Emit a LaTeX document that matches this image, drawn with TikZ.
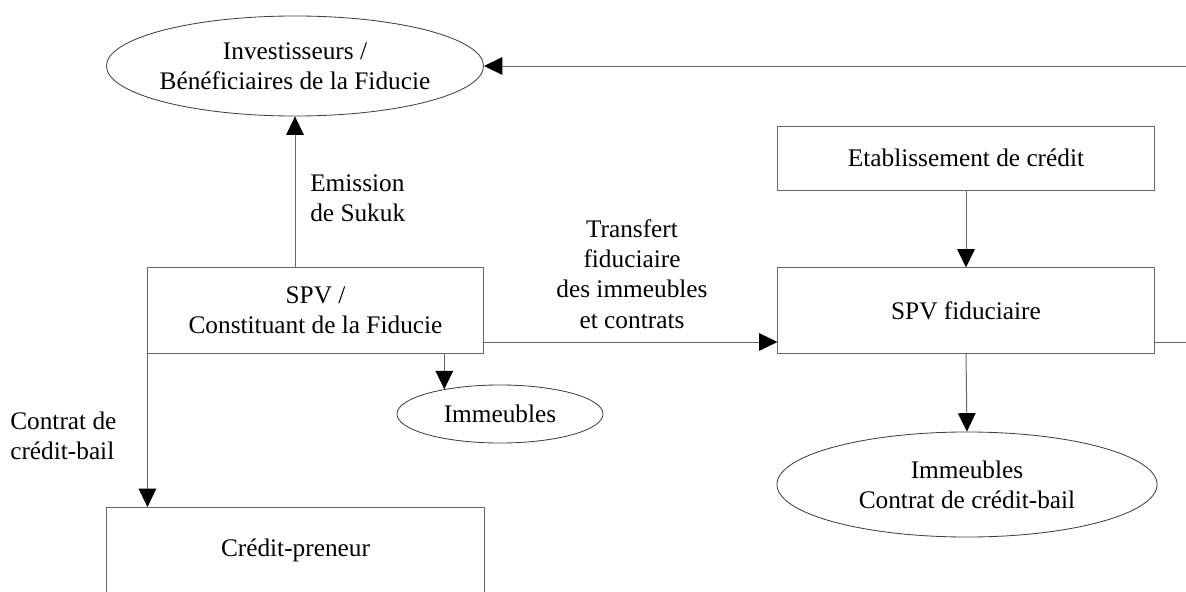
\documentclass[tikz,border=0pt]{standalone}
\usepackage{fontspec}
\setmainfont{Liberation Serif}
\usetikzlibrary{positioning,arrows.meta,shapes.geometric}

\begin{document}
\begin{tikzpicture}[x=0.025cm,y=-0.025cm,
  box/.style={rectangle, draw=black!60, line width=0.7pt, minimum width=9.4cm,
    minimum height=2.125cm, align=center, font=\fontsize{18}{21.5}\selectfont},
  oval/.style={ellipse, draw=black!75, line width=0.6pt, inner sep=0pt,
    align=center, font=\fontsize{18}{21.5}\selectfont},
  lbl/.style={inner sep=0pt, font=\fontsize{18}{21.5}\selectfont},
  link/.style={draw=black!60, line width=0.7pt},
  arr/.style={link, -{Triangle[length=0.46cm,width=0.44cm,color=black]}}]

\clip (0,0) rectangle (1186,592);

% Ellipses
\node[oval, minimum width=9.425cm, minimum height=2.5cm, inner xsep=-0.1cm] (invest) at (295,66)
  {Investisseurs /\\Bénéficiaires de la Fiducie};
\node[oval, minimum width=5.15cm, minimum height=1.45cm] (imm) at (500,414) {Immeubles};
\node[oval, minimum width=9.5cm, minimum height=2.625cm] (immct) at (967,484.5)
  {Immeubles\\Contrat de crédit-bail};

% Boxes
\node[box, minimum width=8.375cm] (spv) at (315.5,310.5) {SPV /\\Constituant de la Fiducie};
\node[box, minimum height=1.6cm] (etab) at (966,158) {Etablissement de crédit};
\node[box] (fid) at (966,310.5) {SPV fiduciaire};
\node[box, minimum width=9.425cm] (credit) at (295.5,550) {Crédit-preneur};

% Labels
\node[lbl, anchor=west, align=left] (emis) at (310,198) {Emission\\de Sukuk};
\node[lbl, align=center] (transf) at (632,274) {Transfert\\fiduciaire\\des immeubles\\et contrats};
\node[lbl, anchor=west, align=left] (ctr) at (10,436) {Contrat de\\crédit-bail};

% Connectors
\coordinate (tline) at (0,342);
\coordinate (rim) at (1200,0);
\draw[arr] (invest.south |- spv.north) -- (invest.south);
\draw[arr] (etab.south) -- (fid.north);
\draw[arr] (fid.south) -- (immct.north);
\draw[arr] (spv.east |- tline) -- (fid.west |- tline);
\draw[arr] (imm.156 |- spv.south) -- (imm.156);
\draw[arr] (spv.south west) -- (spv.south west |- credit.north);
\draw[arr] (fid.east |- tline) -| (rim |- invest.east) -- (invest.east);

\end{tikzpicture}
\end{document}
